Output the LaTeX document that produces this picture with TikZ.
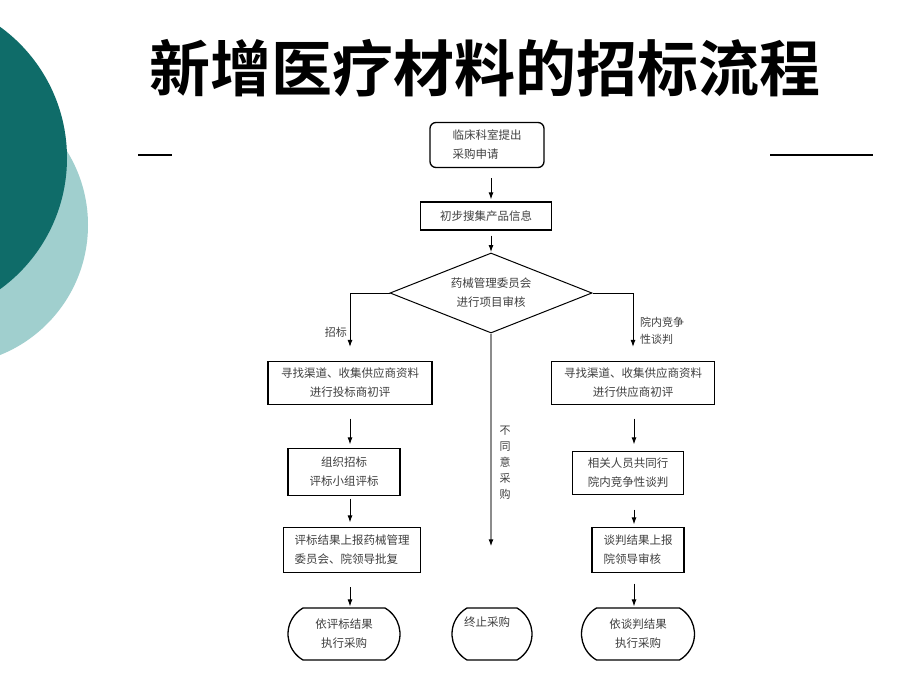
\documentclass[tikz,border=0pt]{standalone}
\usepackage{fontspec}
\setmainfont{Noto Sans CJK SC}[BoldFont={Noto Sans CJK SC Bold}]
\usetikzlibrary{arrows.meta,shapes.geometric,shapes.misc}
\definecolor{tealdark}{HTML}{0F6C69}
\definecolor{teallight}{HTML}{A0CFCE}
\definecolor{txtgray}{HTML}{404040}
\begin{document}
\begin{tikzpicture}[x=1pt,y=-1pt,
  box/.style={draw=black,line width=1.3pt,fill=white,inner sep=0pt,text=txtgray,font=\fontsize{11.5}{19}\selectfont},
  rbox/.style={box,rounded corners=6pt},
  term/.style={box,rounded rectangle,rounded rectangle arc length=120},
  dia/.style={box,line width=1pt,diamond,aspect=2.5},
  arr/.style={draw=black,line width=0.9pt,-{Latex[length=7pt,width=5pt]}},
  lbl/.style={text=txtgray,inner sep=0pt,font=\fontsize{11}{17}\selectfont},
  rule/.style={draw=black,line width=1.2pt}]
\useasboundingbox (0,0) rectangle (920,690);
\fill[white] (0,0) rectangle (920,690);
% decorative circles
\fill[teallight] (-52,225) circle (140);
\fill[tealdark] (-95,158) circle (162);
% title
\node (title) at (485,68) {\fontsize{61}{61}\selectfont\bfseries 新增医疗材料的招标流程};
\coordinate (ra) at (138,155); \coordinate (rb) at (172,155);
\coordinate (rc) at (770,155); \coordinate (rd) at (873,155);
\draw[rule] (ra) -- (rb);
\draw[rule] (rc) -- (rd);
% nodes
\node[rbox,minimum width=114,minimum height=45,align=left] (n1) at (487,145) {临床科室提出\\采购申请};
\node[box,minimum width=131,minimum height=28] (n2) at (486,216) {初步搜集产品信息};
\node[dia,minimum width=202,minimum height=80,align=center] (D) at (491,293) {药械管理委员会\\进行项目审核};
\node[box,minimum width=164,minimum height=43,align=center] (L1) at (350,383) {寻找渠道、收集供应商资料\\进行投标商初评};
\node[box,minimum width=112,minimum height=47,align=center] (L2) at (344,472) {组织招标\\评标小组评标};
\node[box,minimum width=137,minimum height=45,align=left] (L3) at (352,550) {评标结果上报药械管理\\委员会、院领导批复};
\node[term,minimum width=112,minimum height=52,align=center] (L4) at (344,634) {依评标结果\\执行采购};
\node[term,minimum width=80,minimum height=52] (T) at (492,634) {};
\node[lbl,font=\fontsize{11.5}{19}\selectfont] (Tt) at (487,622) {终止采购};
\node[box,minimum width=163,minimum height=43,align=center] (R1) at (633,383) {寻找渠道、收集供应商资料\\进行供应商初评};
\node[box,minimum width=111,minimum height=43,align=center] (R2) at (628,473) {相关人员共同行\\院内竞争性谈判};
\node[box,minimum width=92,minimum height=45,align=left] (R3) at (638,550) {谈判结果上报\\院领导审核};
\node[term,minimum width=113,minimum height=52,align=center] (R4) at (638,634) {依谈判结果\\执行采购};
% labels
\node[lbl,anchor=east] (lz) at (347,332) {招标};
\node[lbl,anchor=west,align=left] (lr) at (640,331) {院内竞争\\性谈判};
\node[lbl,align=center,font=\fontsize{11}{16}\selectfont] (lm) at (505,463) {不\\同\\意\\采\\购};
% connectors
\draw[arr,shorten <=10pt,shorten >=2pt] (D.north |- n1.south) -- (D.north |- n2.north);
\draw[arr,shorten <=5pt,shorten >=0.5pt] (D.north |- n2.south) -- (D.north);
\draw[arr,shorten >=14pt] (D.west) -| (L1.north);
\draw[arr,shorten >=14pt] (D.east) -| (R1.north);
\draw[arr,draw=black!45,line width=1.4pt,-{Latex[length=7pt,width=5pt,color=black]},shorten >=61pt] (D.south) -- (D.south |- T.north);
\draw[arr,shorten <=13.5pt,shorten >=3.5pt] (L1.south) -- (L1.south |- L2.north);
\draw[arr,shorten <=2.5pt,shorten >=4.5pt] (L1.south |- L2.south) -- (L1.south |- L3.north);
\draw[arr,shorten <=14pt,shorten >=1pt] (L1.south |- L3.south) -- (L1.south |- L4.north);
\draw[arr,shorten <=13.5pt,shorten >=6.5pt] ([xshift=1pt]R1.south) -- ([xshift=1pt]R1.south |- R2.north);
\draw[arr,shorten <=14.5pt,shorten >=2.5pt] ([xshift=1pt]R1.south |- R2.south) -- ([xshift=1pt]R1.south |- R3.north);
\draw[arr,shorten <=10.5pt,shorten >=1pt] ([xshift=1pt]R1.south |- R3.south) -- ([xshift=1pt]R1.south |- R4.north);
\end{tikzpicture}
\end{document}
